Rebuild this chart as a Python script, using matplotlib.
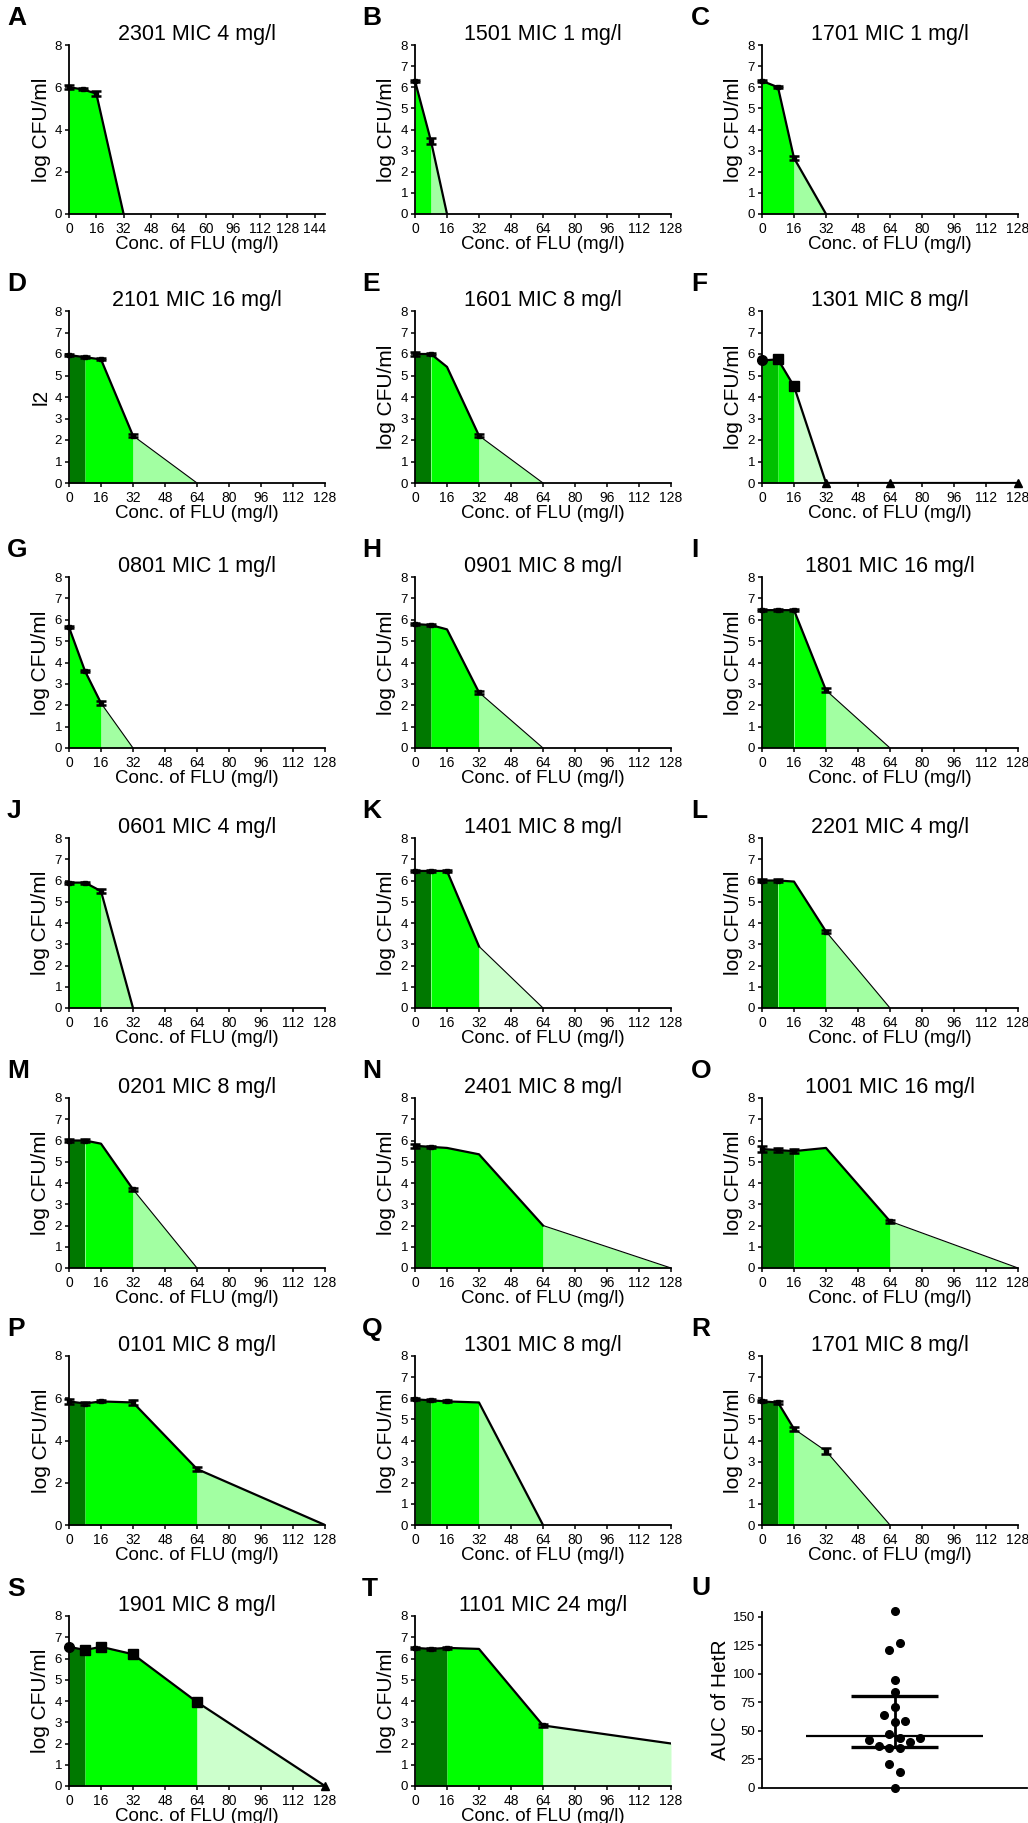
import numpy as np
import matplotlib
matplotlib.use("Agg")
import matplotlib.pyplot as plt

plt.rcParams['font.family'] = ['Liberation Sans', 'DejaVu Sans']

# ---- data ----
letters = list("ABCDEFGHIJKLMNOPQRST")
titles = ["2301 MIC 4 mg/l", "1501 MIC 1 mg/l", "1701 MIC 1 mg/l",
          "2101 MIC 16 mg/l", "1601 MIC 8 mg/l", "1301 MIC 8 mg/l",
          "0801 MIC 1 mg/l", "0901 MIC 8 mg/l", "1801 MIC 16 mg/l",
          "0601 MIC 4 mg/l", "1401 MIC 8 mg/l", "2201 MIC 4 mg/l",
          "0201 MIC 8 mg/l", "2401 MIC 8 mg/l", "1001 MIC 16 mg/l",
          "0101 MIC 8 mg/l", "1301 MIC 8 mg/l", "1701 MIC 8 mg/l",
          "1901 MIC 8 mg/l", "1101 MIC 24 mg/l"]
conc = [0, 8, 16, 32, 64, 128]

log_cfu = [
    [6.0, 5.9, 5.7, 0],                    # A
    [6.3, 3.45, 0],                        # B
    [6.3, 6.0, 2.65, 0],                   # C
    [5.95, 5.85, 5.75, 2.2, 0],            # D
    [6.0, 6.0, 5.4, 2.2, 0],               # E
    [5.7, 5.75, 4.5, 0, 0, 0],             # F
    [5.65, 3.6, 2.1, 0],                   # G
    [5.8, 5.75, 5.55, 2.6, 0],             # H
    [6.45, 6.45, 6.45, 2.7, 0],            # I
    [5.9, 5.9, 5.5, 0],                    # J
    [6.45, 6.45, 6.45, 2.9, 0],            # K
    [6.0, 6.0, 5.95, 3.6, 0],              # L
    [6.0, 6.0, 5.85, 3.7, 0],              # M
    [5.75, 5.7, 5.65, 5.35, 2.0, 0],       # N
    [5.6, 5.55, 5.5, 5.65, 2.2, 0],        # O
    [5.85, 5.75, 5.85, 5.8, 2.65, 0],      # P
    [5.95, 5.9, 5.85, 5.8, 0],             # Q
    [5.85, 5.8, 4.55, 3.5, 0],             # R
    [6.55, 6.4, 6.55, 6.2, 3.95, 0],       # S
    [6.5, 6.45, 6.5, 6.45, 2.85, 2.0],     # T
]
sem = [
    [0.1, 0.05, 0.1, 0],
    [0.05, 0.15, 0],
    [0.05, 0.05, 0.1, 0],
    [0.05, 0.05, 0.05, 0.08, 0],
    [0.08, 0.05, 0, 0.08, 0],
    [0, 0, 0, 0, 0, 0],
    [0.05, 0.05, 0.08, 0],
    [0.05, 0.05, 0, 0.08, 0],
    [0.05, 0.05, 0.05, 0.1, 0],
    [0.05, 0.05, 0.1, 0],
    [0.05, 0.05, 0.05, 0, 0],
    [0.05, 0.05, 0, 0.08, 0],
    [0.05, 0.05, 0, 0.08, 0],
    [0.1, 0.05, 0, 0, 0, 0],
    [0.15, 0.1, 0.1, 0, 0.08, 0],
    [0.1, 0.08, 0.05, 0.1, 0.08, 0],
    [0.05, 0.05, 0.05, 0, 0],
    [0.05, 0.05, 0.08, 0.15, 0],
    [0, 0, 0, 0, 0, 0],
    [0.05, 0.05, 0.05, 0, 0.05, 0],
]
zone_edges = [
    [0, 32], [0, 8, 16], [0, 16, 32], [0, 8, 32, 64], [0, 8, 32, 64],
    [0, 8, 16, 32], [0, 16, 32], [0, 8, 32, 64], [0, 16, 32, 64],
    [0, 16, 32], [0, 8, 32, 64], [0, 8, 32, 64], [0, 8, 32, 64],
    [0, 8, 64, 128], [0, 16, 64, 128], [0, 8, 64, 128], [0, 8, 32, 64],
    [0, 8, 16, 64], [0, 8, 64, 128], [0, 16, 64, 128],
]
zone_shades = [
    "b", "bl", "bl", "dbl", "dbl", "mbv", "bl", "dbl", "dbl", "bl",
    "dbv", "dbl", "dbl", "dbl", "dbl", "dbl", "dbl", "dbl", "dbv", "dbv",
]
thick_until = [32, 16, 32, 32, 32, 128, 16, 32, 32, 32,
               32, 32, 32, 64, 64, 128, 64, 16, 128, 128]
marker_panels = ["F", "S"]

ylabels = ["log CFU/ml"] * 20
ylabels[3] = "l2"
a_xticks = [0, 16, 32, 48, 64, 80, 96, 112, 128, 144]
a_xticklabels = ["0", "16", "32", "48", "64", "60", "96", "112", "128", "144"]

auc = [155, 126.7, 120.6, 94.1, 83.6, 71.1, 64.1, 58.8, 58.0, 47.5,
       44.0, 43.4, 41.9, 39.9, 36.7, 34.7, 35.2, 21.3, 14.0, 0]
auc_jitter = [0, 1, -1, 0, 0, 0, -2, 2, 0, -1, 1, 5, -5, 3, -3, -1, 1, -1, 1, 0]

# ---- styling ----
shade_colors = {"d": "#007800", "m": "#00c000", "b": "#00ff00",
                "l": "#a2ffa2", "v": "#ccffcc"}
W, H = 1028, 1823
col_left = [69, 415, 762]
ax_w = 256
row_top = [45, 311, 577, 838, 1098, 1356, 1616]
row_bot = [214, 483, 748, 1008, 1268, 1525, 1786]
label_x = [7, 362, 691]

fig = plt.figure(figsize=(W / 100, H / 100), dpi=100)


def px_axes(left, top, right, bottom):
    return fig.add_axes([left / W, 1 - bottom / H, (right - left) / W, (bottom - top) / H])


def style_axes(ax):
    for s in ["top", "right"]:
        ax.spines[s].set_visible(False)
    for s in ["left", "bottom"]:
        ax.spines[s].set_linewidth(1.3)
    ax.tick_params(direction="out", length=3, width=1.1, pad=2)
    ax.tick_params(axis="x", labelsize=10, pad=3)
    ax.tick_params(axis="y", labelsize=9.5)


def draw_panel(ax, i):
    y = np.array(log_cfu[i], dtype=float)
    x = np.array(conc[:len(y)], dtype=float)
    e = np.array(sem[i], dtype=float)
    edges = zone_edges[i]
    for a, b, s in zip(edges[:-1], edges[1:], zone_shades[i]):
        xs = np.concatenate([[a], x[(x > a) & (x < b)], [b]])
        ys = np.interp(xs, x, y)
        ax.fill_between(xs, ys, 0, color=shade_colors[s], lw=0)

    n = int(np.sum(x <= thick_until[i]))
    ax.plot(x[:n], y[:n], color="k", lw=1.6, solid_joinstyle="round")
    if n < len(x):
        ax.plot(x[n - 1:], y[n - 1:], color="k", lw=0.8)

    if letters[i] in marker_panels:
        for xi, yi in zip(x, y):
            if yi == 0:
                m, ms = "^", 6
            elif xi == 0:
                m, ms = "o", 7
            else:
                m, ms = "s", 7
            ax.plot(xi, yi, marker=m, ms=ms, color="k", clip_on=False, zorder=5)
    else:
        mask = e > 0
        ax.errorbar(x[mask], y[mask], yerr=e[mask], fmt="s", ms=3, color="k",
                    capsize=3.5, elinewidth=1.2, capthick=1.8, clip_on=False, zorder=5)

    ax.set_ylim(0, 8)
    if letters[i] in ["A", "P"]:
        ax.set_yticks([0, 2, 4, 6, 8])
    else:
        ax.set_yticks(range(9))
    if letters[i] == "A":
        ax.set_xlim(0, 150)
        ax.set_xticks(a_xticks)
        ax.set_xticklabels(a_xticklabels)
    else:
        ax.set_xlim(0, 128)
        ax.set_xticks(range(0, 129, 16))
    ax.set_title(titles[i], fontsize=15.5, pad=3)
    ax.set_xlabel("Conc. of FLU (mg/l)", fontsize=13.5, labelpad=0)
    ax.set_ylabel(ylabels[i], fontsize=15, labelpad=3)


for i in range(20):
    r, c = divmod(i, 3)
    ax = px_axes(col_left[c], row_top[r], col_left[c] + ax_w, row_bot[r])
    style_axes(ax)
    draw_panel(ax, i)
    fig.text(label_x[c] / W, 1 - (row_top[r] - 27) / H, letters[i],
             fontsize=19, fontweight="bold", ha="left", va="center")

# ---- panel U ----
axu = px_axes(762, 1612, 1027, 1788)
style_axes(axu)
xs_u = 0.5 + np.array(auc_jitter) * 0.0195
axu.plot(xs_u, auc, "o", color="k", ms=5.5, clip_on=False, zorder=5)
q1, med, q3 = np.percentile(auc, [25, 50, 75], method="weibull")
axu.hlines(med, 0.166, 0.834, color="k", lw=1.6)
axu.hlines([q1, q3], 0.336, 0.664, color="k", lw=2.4)
axu.vlines(0.5, q1, q3, color="k", lw=2)
axu.set_xlim(0, 1)
axu.set_ylim(0, 154)
axu.set_yticks(range(0, 151, 25))
axu.set_xticks([])
axu.set_ylabel("AUC of HetR", fontsize=15, labelpad=2)
fig.text(label_x[2] / W, 1 - (1617 - 29) / H, "U",
         fontsize=19, fontweight="bold", ha="left", va="center")

fig.savefig("out.png", dpi=100)
